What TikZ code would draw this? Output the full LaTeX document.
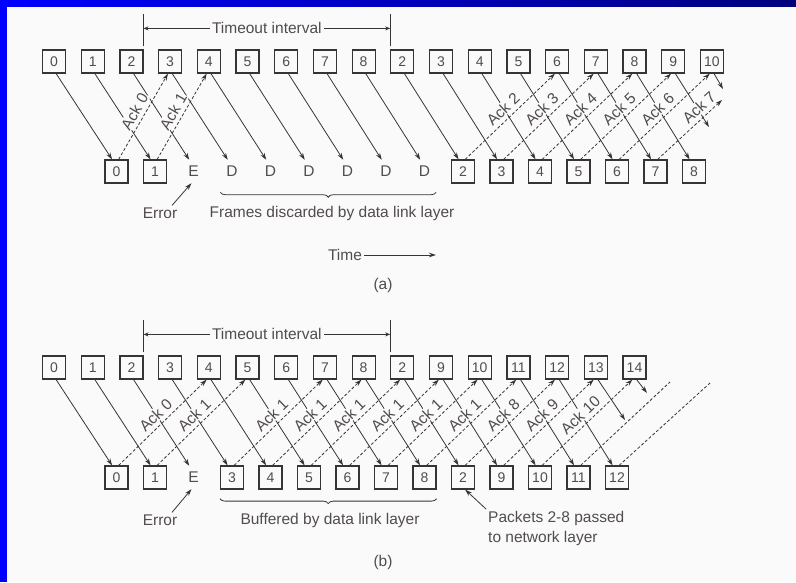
\documentclass[tikz,border=0pt]{standalone}
\usepackage{fontspec}
\setmainfont{Liberation Sans}
\usetikzlibrary{arrows.meta,decorations.pathreplacing}
\definecolor{paper}{RGB}{250,250,250}
\definecolor{ink}{RGB}{55,52,52}
\definecolor{txt}{RGB}{82,76,76}
\definecolor{slideblue}{RGB}{0,0,255}
\definecolor{slidenavy}{RGB}{0,0,125}
\newcommand\lblfont{\fontsize{15.5}{20}\selectfont}
\newcommand\numfont{\fontsize{14}{14}\selectfont}
\tikzset{>={Stealth[length=7pt,width=4.5pt]}}
\tikzset{
  pkt/.style={draw=ink, line width=1.2pt, minimum size=23pt, inner sep=0pt, text=txt, font=\numfont},
  gone/.style={minimum size=23pt, inner sep=0pt, text=txt, font=\lblfont},
  lbl/.style={text=txt, font=\lblfont, inner sep=2pt},
  frm/.style={->, draw=ink, line width=.8pt},
  ack/.style={frm, dash pattern=on 3pt off 2pt},
  acklbl/.style={lbl, sloped, above=3pt, fill=paper, inner sep=1pt},
  brc/.style={draw=ink, line width=.8pt, decorate, decoration={brace, mirror, amplitude=5pt}},
  bar/.style={draw=ink, line width=.8pt},
}

\begin{document}
\begin{tikzpicture}[x=1pt,y=-1pt]
  \fill[paper] (0,0) rectangle (796,582);
  \useasboundingbox (0,0) rectangle (796,582);
  \fill[slideblue] (0,0) rectangle (7,582);
  \shade[left color=slideblue, right color=slidenavy] (0,0) rectangle (796,6);

  % (a) go back n
  \foreach \t [count=\i from 0] in {0,1,2,3,4,5,6,7,8,2,3,4,5,6,7,8,9,10}
    \node[pkt] (ta\i) at (54+38.7*\i,61.5) {\t};
  \foreach \t/\s [count=\j from 0] in {0/pkt,1/pkt,E/gone,D/gone,D/gone,D/gone,D/gone,D/gone,D/gone,2/pkt,3/pkt,4/pkt,5/pkt,6/pkt,7/pkt,8/pkt}
    \node[\s] (ba\j) at (116.5+38.5*\j,171.5) {\t};

  \foreach \i in {0,...,15}
    \draw[frm] (ta\i.-80) -- (ba\i.110);
  \coordinate (fa16) at (709,127);
  \coordinate (fa17) at (723,89);
  \draw[frm] (ta16.-80) -- (fa16);
  \draw[frm] (ta17.-80) -- (fa17);

  \foreach \j/\i/\n in {0/3/0,1/4/1,9/13/2,10/14/3,11/15/4,12/16/5,13/17/6}
    \draw[ack] (ba\j.80) -- node[acklbl] (aa\n) {Ack \n} (ta\i.-100);
  \coordinate (ack7) at (722,100);
  \draw[ack] (ba14.80) -- node[acklbl,pos=.75] (aa7) {Ack 7} (ack7);

  \draw[bar] ([yshift=3pt]ta2.north east) -- ++(0,-32);
  \draw[bar] ([yshift=3pt]ta9.north west) -- ++(0,-32);
  \draw[bar,<->,>={Stealth[length=5pt,width=4pt]}] ([yshift=21pt]ta2.north east)
    -- node[lbl,fill=paper] (toa) {Timeout interval} ([yshift=21pt]ta9.north west);

  \draw[brc] ([yshift=-9pt]ba3.south west) -- ([yshift=-9pt]ba8.south east);
  \node[lbl] (disc) at (332,213) {Frames discarded by data link layer};
  \node[lbl] (erra) at (160,213) {Error};
  \draw[frm] ([xshift=12pt]erra.north) -- (ba2.-100);

  \node[lbl] (time) at (345,255) {Time};
  \coordinate (tend) at (436,255);
  \draw[frm] (time) -- (tend);
  \node[lbl] (capa) at (383,285) {(a)};

  % (b) selective repeat
  \foreach \t [count=\i from 0] in {0,1,2,3,4,5,6,7,8,2,9,10,11,12,13,14}
    \node[pkt] (tb\i) at (54+38.7*\i,367.5) {\t};
  \foreach \t/\s [count=\j from 0] in {0/pkt,1/pkt,E/gone,3/pkt,4/pkt,5/pkt,6/pkt,7/pkt,8/pkt,2/pkt,9/pkt,10/pkt,11/pkt,12/pkt}
    \node[\s] (bb\j) at (116.5+38.5*\j,477.5) {\t};

  \foreach \i in {0,...,13}
    \draw[frm] (tb\i.-80) -- (bb\i.110);
  \coordinate (fb14) at (625,420);
  \coordinate (fb15) at (647,393);
  \draw[frm] (tb14.-80) -- (fb14);
  \draw[frm] (tb15.-80) -- (fb15);

  \foreach \j/\i/\n [count=\k] in {0/4/0,1/5/1,3/7/1,4/8/1,5/9/1,6/10/1,7/11/1,8/12/1,9/13/8,10/14/9,11/15/10}
    \draw[ack] (bb\j.80) -- node[acklbl] (ab\k) {Ack \n} (tb\i.-100);
  \coordinate (ab12) at (670,382);
  \coordinate (ab13) at (710,383);
  \draw[ack,-] (bb12.80) -- (ab12);
  \draw[ack,-] (bb13.80) -- (ab13);

  \draw[bar] ([yshift=3pt]tb2.north east) -- ++(0,-32);
  \draw[bar] ([yshift=3pt]tb9.north west) -- ++(0,-32);
  \draw[bar,<->,>={Stealth[length=5pt,width=4pt]}] ([yshift=21pt]tb2.north east)
    -- node[lbl,fill=paper] (tob) {Timeout interval} ([yshift=21pt]tb9.north west);

  \draw[brc] ([yshift=-9pt]bb3.south west) -- ([yshift=-9pt]bb8.south east);
  \node[lbl] (buf) at (330,520) {Buffered by data link layer};
  \node[lbl] (errb) at (160,520) {Error};
  \draw[frm] ([xshift=12pt]errb.north) -- (bb2.-100);

  \node[lbl,align=left,anchor=north west] (pass) at (486,509) {Packets 2-8 passed\\to network layer};
  \draw[frm] (pass.north west) -- (bb9.-80);
  \node[lbl] (capb) at (383,562) {(b)};
\end{tikzpicture}
\end{document}
